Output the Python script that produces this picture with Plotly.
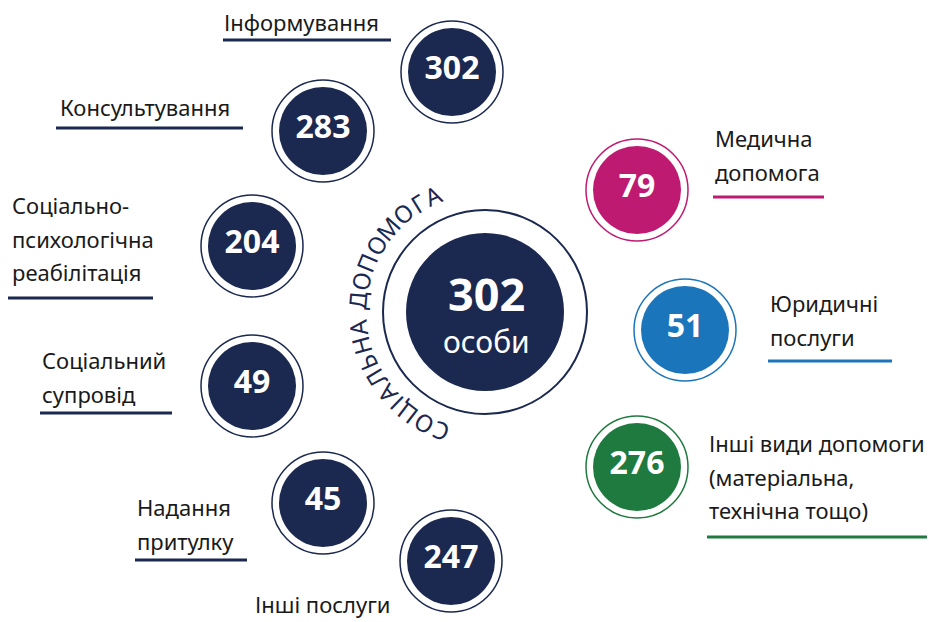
import math
import plotly.graph_objects as go

# ---------------- data ----------------
categories = [
    "Інформування", "Консультування", "Соціально-психологічна реабілітація",
    "Соціальний супровід", "Надання притулку", "Інші послуги",
    "Медична допомога", "Юридичні послуги",
    "Інші види допомоги (матеріальна, технічна тощо)",
]
values = [302, 283, 204, 49, 45, 247, 79, 51, 276]
label_lines = [
    ["Інформування"], ["Консультування"],
    ["Соціально-", "психологічна", "реабілітація"],
    ["Соціальний", "супровід"], ["Надання", "притулку"], ["Інші послуги"],
    ["Медична", "допомога"], ["Юридичні", "послуги"],
    ["Інші види допомоги", "(матеріальна,", "технічна тощо)"],
]
total_people = 302
total_unit = "особи"
arc_title = "СОЦІАЛЬНА ДОПОМОГА"

# ---------------- layout / style ----------------
W, H = 932, 622
NAVY, MAGENTA, BLUE, GREEN = "#1B284F", "#BE1A72", "#1B75BB", "#1E7A3E"
TEXT = "#1a1a1a"
colors = [NAVY] * 6 + [MAGENTA, BLUE, GREEN]
centers = [(452, 72), (323, 131), (252, 246), (252, 386), (323, 503), (451, 561),
           (637, 190), (685, 330), (637, 467)]
ring_r, fill_r = 51, 44
label_x = [222, 58, 10, 40, 135, 253, 713, 768, 707]
label_y0 = [22, 107, 205, 360, 507, 604, 138, 303, 443]
line_gap = 33.5
underlines = [(223, 391, 40), (56, 243, 128), (8, 153, 298), (40, 172, 413),
              (135, 247, 560), None, (713, 824, 197), (768, 892, 361), (707, 927, 537)]
C = (485, 312)
C_ring, C_fill = 102, 79
LABEL_FONT = "Noto Sans"

fig = go.Figure()

xs = [C[0]] + [c[0] for c in centers]
ys = [C[1]] + [c[1] for c in centers]
# rings (white with thin coloured outline) and filled discs
fig.add_trace(go.Scatter(
    x=xs, y=ys, mode="markers", hoverinfo="skip", showlegend=False,
    marker=dict(size=[2 * C_ring] + [2 * ring_r] * len(centers), color="white", opacity=1,
                line=dict(color=[NAVY] + colors, width=[2] + [1.5] * len(centers))),
))
fig.add_trace(go.Scatter(
    x=xs, y=ys, mode="markers", hoverinfo="skip", showlegend=False,
    marker=dict(size=[2 * C_fill] + [2 * fill_r] * len(centers), opacity=1,
                color=[NAVY] + colors, line=dict(width=0)),
))
# values
fig.add_trace(go.Scatter(
    x=[c[0] for c in centers], y=[c[1] - 1 for c in centers],
    mode="text", text=[f"<b>{v}</b>" for v in values], hoverinfo="skip", showlegend=False,
    textposition="middle center",
    textfont=dict(family=LABEL_FONT, size=32, color="white"),
))

annotations = []
annotations.append(dict(x=C[0] + 1, y=293, text=f"<b>{total_people}</b>", showarrow=False,
                        xanchor="center", yanchor="middle", height=40, valign="middle",
                        font=dict(family=LABEL_FONT, size=45, color="white")))
annotations.append(dict(x=C[0] + 1, y=341, text=total_unit, showarrow=False,
                        xanchor="center", yanchor="middle", height=28, valign="middle",
                        font=dict(family=LABEL_FONT, size=30, color="white")))

# labels
for i, lines in enumerate(label_lines):
    for j, ln in enumerate(lines):
        annotations.append(dict(x=label_x[i], y=label_y0[i] + j * line_gap, text=ln,
                                showarrow=False, xanchor="left", yanchor="middle",
                                font=dict(family=LABEL_FONT, size=22, color=TEXT)))

shapes = []
for i, u in enumerate(underlines):
    if u is None:
        continue
    shapes.append(dict(type="line", x0=u[0], x1=u[1], y0=u[2], y1=u[2],
                       line=dict(color=colors[i], width=3)))

# curved title around the central circle
widths = {" ": 0.45, "І": 0.55, "Ь": 0.9, "Г": 0.85, "М": 1.15, "О": 1.1}
ws = [widths.get(ch, 1.0) for ch in arc_title]
cum, pos = 0.0, []
for w in ws:
    pos.append(cum + w / 2)
    cum += w
a0, a1 = 110.0, 246.0
arc_r = 128
for ch, p in zip(arc_title, pos):
    if ch == " ":
        continue
    th = a0 + (p - pos[0]) / (pos[-1] - pos[0]) * (a1 - a0)
    t = math.radians(th)
    ang = th + 90
    while ang > 180:
        ang -= 360
    annotations.append(dict(x=C[0] + arc_r * math.cos(t), y=C[1] + arc_r * math.sin(t),
                            text=ch, showarrow=False, textangle=ang,
                            xanchor="center", yanchor="middle",
                            font=dict(family=LABEL_FONT, size=24, color=NAVY)))

fig.update_layout(
    width=W, height=H, margin=dict(l=0, r=0, t=0, b=0),
    paper_bgcolor="white", plot_bgcolor="white",
    xaxis=dict(range=[0, W], visible=False, fixedrange=True),
    yaxis=dict(range=[H, 0], visible=False, fixedrange=True),
    annotations=annotations, shapes=shapes, showlegend=False,
)
fig.write_html("out.html", config={"displayModeBar": False},
               post_script="document.body.style.margin='0';document.body.style.overflow='hidden';")
